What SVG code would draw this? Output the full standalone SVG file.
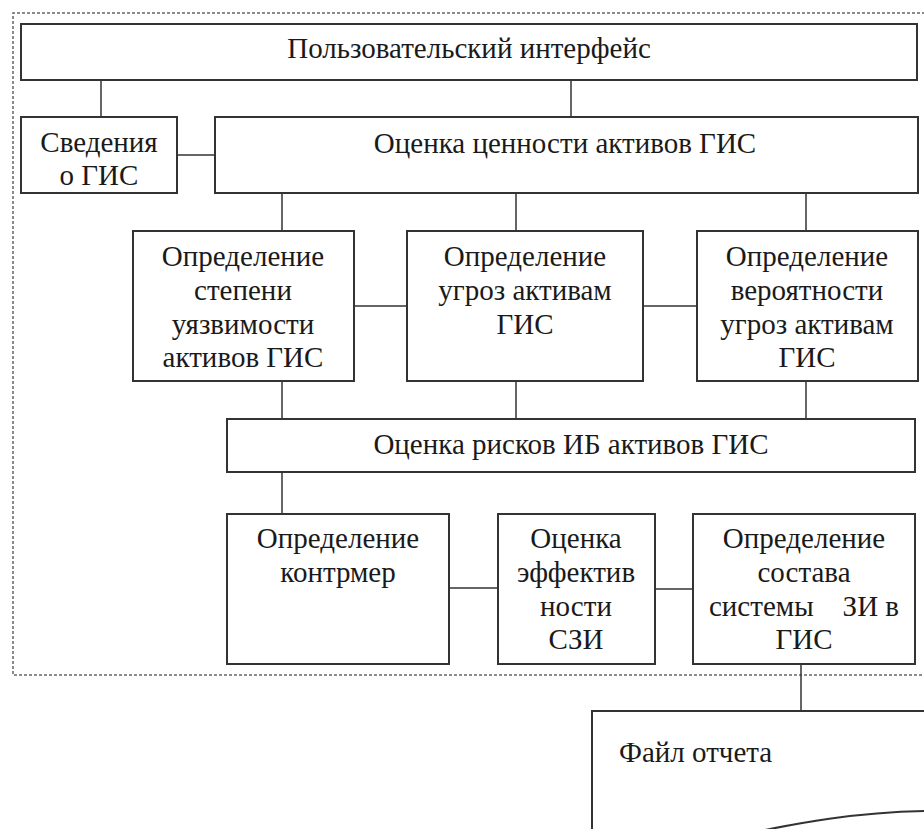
<svg xmlns="http://www.w3.org/2000/svg" width="924" height="829" viewBox="0 0 924 829">
<style>
.box{fill:#fff;stroke:#333;stroke-width:2}
.ln{stroke:#333;stroke-width:1.5;fill:none}
.t{font-family:"Liberation Serif","Times New Roman",serif;font-size:29px;fill:#1a1a1a;text-anchor:middle}
.dash{fill:none;stroke:#666;stroke-width:1.5;stroke-dasharray:3 2}
</style>
<rect width="924" height="829" fill="#fff"/>
<path class="dash" d="M930 13 H13 V675 H930"/>
<g id="connectors">
<line class="ln" x1="101" y1="80" x2="101" y2="117"/>
<line class="ln" x1="571" y1="80" x2="571" y2="117"/>
<line class="ln" x1="177" y1="155" x2="215" y2="155"/>
<line class="ln" x1="282" y1="193" x2="282" y2="231"/>
<line class="ln" x1="516" y1="193" x2="516" y2="231"/>
<line class="ln" x1="806" y1="193" x2="806" y2="231"/>
<line class="ln" x1="354" y1="306" x2="407" y2="306"/>
<line class="ln" x1="643" y1="306" x2="697" y2="306"/>
<line class="ln" x1="282" y1="381" x2="282" y2="419"/>
<line class="ln" x1="516" y1="381" x2="516" y2="419"/>
<line class="ln" x1="806" y1="381" x2="806" y2="419"/>
<line class="ln" x1="282" y1="472" x2="282" y2="514"/>
<line class="ln" x1="449" y1="588" x2="498" y2="588"/>
<line class="ln" x1="655" y1="589" x2="693" y2="589"/>
<line class="ln" x1="801" y1="664" x2="801" y2="711"/>
</g>
<g id="ui">
<rect class="box" x="21" y="24" width="896" height="56"/>
<text class="t" x="469" y="58">Пользовательский интерфейс</text>
</g>
<g id="info">
<rect class="box" x="21" y="117" width="156" height="76"/>
<text class="t" x="99" y="152">Сведения</text>
<text class="t" x="99" y="185">о ГИС</text>
</g>
<g id="value">
<rect class="box" x="215" y="117" width="703" height="76"/>
<text class="t" x="565" y="153">Оценка ценности активов ГИС</text>
</g>
<g id="vuln">
<rect class="box" x="133" y="231" width="221" height="150"/>
<text class="t" x="243" y="266">Определение</text>
<text class="t" x="243" y="300">степени</text>
<text class="t" x="243" y="334">уязвимости</text>
<text class="t" x="243" y="367">активов ГИС</text>
</g>
<g id="threats">
<rect class="box" x="407" y="231" width="236" height="150"/>
<text class="t" x="525" y="266">Определение</text>
<text class="t" x="525" y="300">угроз активам</text>
<text class="t" x="525" y="334">ГИС</text>
</g>
<g id="prob">
<rect class="box" x="697" y="231" width="221" height="150"/>
<text class="t" x="807" y="266">Определение</text>
<text class="t" x="807" y="300">вероятности</text>
<text class="t" x="807" y="334">угроз активам</text>
<text class="t" x="807" y="367">ГИС</text>
</g>
<g id="risk">
<rect class="box" x="227" y="419" width="688" height="53"/>
<text class="t" x="571" y="454">Оценка рисков ИБ активов ГИС</text>
</g>
<g id="counter">
<rect class="box" x="227" y="514" width="222" height="150"/>
<text class="t" x="338" y="548">Определение</text>
<text class="t" x="338" y="582">контрмер</text>
</g>
<g id="eff">
<rect class="box" x="498" y="514" width="157" height="150"/>
<text class="t" x="576" y="548">Оценка</text>
<text class="t" x="576" y="582">эффектив</text>
<text class="t" x="576" y="616">ности</text>
<text class="t" x="576" y="649">СЗИ</text>
</g>
<g id="comp">
<rect class="box" x="693" y="514" width="222" height="150"/>
<text class="t" x="804" y="548">Определение</text>
<text class="t" x="804" y="582">состава</text>
<text class="t" x="804" y="616" xml:space="preserve">системы    ЗИ в</text>
<text class="t" x="804" y="649">ГИС</text>
</g>
<g id="report">
<path class="box" d="M930 711 H592 V835 H740 C790 825 850 812 930 811"/>
<text class="t" x="619" y="762" style="text-anchor:start">Файл отчета</text>
</g>
</svg>
